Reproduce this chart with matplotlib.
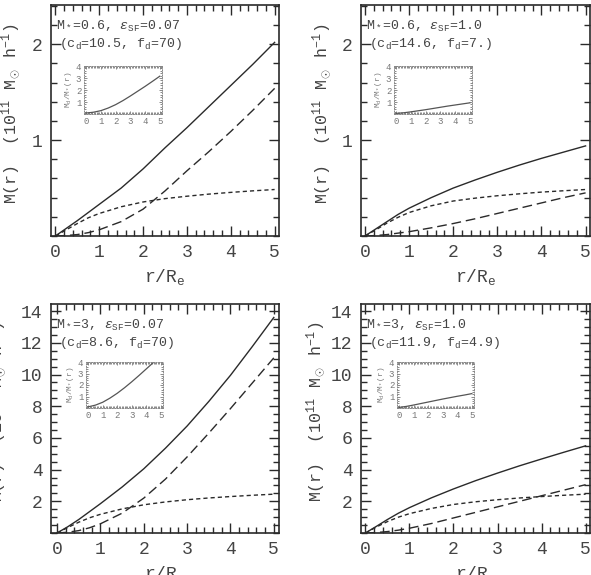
import matplotlib
matplotlib.use("Agg")
import matplotlib.pyplot as plt
from matplotlib.ticker import MultipleLocator, FixedLocator

plt.rcParams['font.family'] = ['Liberation Mono', 'DejaVu Sans']
plt.rcParams['mathtext.fontset'] = 'custom'
plt.rcParams['mathtext.rm'] = 'Liberation Mono'
plt.rcParams['mathtext.it'] = 'Liberation Mono:italic'
plt.rcParams['mathtext.bf'] = 'Liberation Mono:bold'

r = [0, 0.25, 0.5, 0.75, 1, 1.5, 2, 2.5, 3, 3.5, 4, 4.5, 5]

# top-left: M*=0.6, eSF=0.07
tl_total = [0, 0.08, 0.16, 0.245, 0.33, 0.5, 0.7, 0.92, 1.13, 1.35, 1.57, 1.79, 2.02]
tl_dm    = [0, 0.005, 0.015, 0.035, 0.065, 0.15, 0.28, 0.47, 0.68, 0.88, 1.09, 1.31, 1.54]
tl_star  = [0, 0.065, 0.13, 0.19, 0.235, 0.305, 0.355, 0.39, 0.415, 0.437, 0.455, 0.471, 0.485]
# top-right: M*=0.6, eSF=1.0
tr_total = [0, 0.075, 0.15, 0.225, 0.29, 0.4, 0.5, 0.585, 0.665, 0.74, 0.81, 0.875, 0.94]
tr_dm    = [0, 0.005, 0.015, 0.03, 0.045, 0.085, 0.13, 0.18, 0.235, 0.29, 0.345, 0.4, 0.45]
tr_star  = [0, 0.065, 0.135, 0.195, 0.245, 0.315, 0.365, 0.395, 0.42, 0.44, 0.458, 0.472, 0.485]
# bottom-left: M*=3, eSF=0.07
bl_total = [0, 0.4, 0.85, 1.35, 1.85, 2.9, 4.05, 5.35, 6.75, 8.3, 9.95, 11.75, 13.6]
bl_dm    = [0, 0.05, 0.15, 0.33, 0.58, 1.25, 2.2, 3.4, 4.8, 6.3, 7.85, 9.45, 11.05]
bl_star  = [0, 0.35, 0.68, 0.96, 1.18, 1.52, 1.78, 1.96, 2.1, 2.21, 2.3, 2.38, 2.45]
# bottom-right: M*=3, eSF=1.0
br_total = [0, 0.42, 0.85, 1.25, 1.6, 2.22, 2.78, 3.3, 3.78, 4.24, 4.67, 5.09, 5.5]
br_dm    = [0, 0.03, 0.09, 0.18, 0.3, 0.6, 0.95, 1.3, 1.65, 2.0, 2.35, 2.7, 3.05]
br_star  = [0, 0.38, 0.72, 1.0, 1.22, 1.55, 1.8, 1.97, 2.1, 2.21, 2.3, 2.38, 2.45]

# insets: Md/M*(r)
ri = [0, 0.5, 1, 1.5, 2, 2.5, 3, 3.5, 4, 4.5, 5]
tl_ratio = [0.08, 0.15, 0.28, 0.5, 0.78, 1.12, 1.5, 1.9, 2.3, 2.72, 3.15]
tr_ratio = [0.05, 0.1, 0.18, 0.27, 0.36, 0.46, 0.56, 0.66, 0.75, 0.84, 0.93]
bl_ratio = [0.1, 0.25, 0.5, 0.86, 1.28, 1.76, 2.28, 2.83, 3.4, 3.97, 4.55]
br_ratio = [0.05, 0.14, 0.26, 0.39, 0.52, 0.65, 0.78, 0.9, 1.02, 1.13, 1.25]

labels = [
    (r'M$_*$=0.6, $\epsilon_{\rm SF}$=0.07', r'(c$_{\rm d}$=10.5, f$_{\rm d}$=70)'),
    (r'M$_*$=0.6, $\epsilon_{\rm SF}$=1.0', r'(c$_{\rm d}$=14.6, f$_{\rm d}$=7.)'),
    (r'M$_*$=3, $\epsilon_{\rm SF}$=0.07', r'(c$_{\rm d}$=8.6, f$_{\rm d}$=70)'),
    (r'M$_*$=3, $\epsilon_{\rm SF}$=1.0', r'(c$_{\rm d}$=11.9, f$_{\rm d}$=4.9)'),
]

W, H = 591, 575
fig = plt.figure(figsize=(W / 100, H / 100), dpi=100)

def fx(px):
    return px / W

def fy(py):
    return 1 - py / H

main_px = [
    (51, 5, 279, 236),
    (361, 5, 590, 236),
    (51, 304, 279, 533),
    (361, 304, 590, 533),
]
inset_px = [
    (84, 66, 162, 114),
    (394, 66, 472, 114),
    (86, 362, 163, 408),
    (397, 362, 474, 408),
]
ylab_x = [-0.122, -0.118, -0.185, -0.143]
xlims = [(-0.1, 5.1), (-0.09, 5.1), (-0.14, 5.12), (-0.1, 5.1)]
ylims = [(0, 2.41), (0, 2.41), (0, 14.45), (0, 14.45)]
data = [
    (tl_total, tl_dm, tl_star, tl_ratio),
    (tr_total, tr_dm, tr_star, tr_ratio),
    (bl_total, bl_dm, bl_star, bl_ratio),
    (br_total, br_dm, br_star, br_ratio),
]

ink = '#2a2a2a'
txt = '#444444'

for i in range(4):
    x0, y0, x1, y1 = main_px[i]
    ax = fig.add_axes([fx(x0), fy(y1), fx(x1 - x0), (y1 - y0) / H])
    tot, dm, st, ratio = data[i]
    ax.plot(r, tot, color=ink, lw=1.0, ls='-')
    ax.plot(r, dm, color=ink, lw=1.0, ls=(0, (7, 3.5)))
    ax.plot(r, st, color=ink, lw=1.0, ls=(0, (3, 2.2)))
    ax.set_xlim(*xlims[i])
    ax.set_ylim(*ylims[i])
    ax.xaxis.set_major_locator(FixedLocator([0, 1, 2, 3, 4, 5]))
    ax.xaxis.set_minor_locator(MultipleLocator(0.2))
    if i < 2:
        ax.yaxis.set_major_locator(FixedLocator([1, 2]))
        ax.yaxis.set_minor_locator(MultipleLocator(0.2))
    else:
        ax.yaxis.set_major_locator(FixedLocator([2, 4, 6, 8, 10, 12, 14]))
        ax.yaxis.set_minor_locator(MultipleLocator(0.5))
    ax.tick_params(which='both', direction='in', top=True, right=True,
                   colors=ink, labelcolor=txt, labelsize=13, width=1.0)
    ax.tick_params(which='major', length=7, pad=6)
    ax.tick_params(which='minor', length=4)
    for s in ax.spines.values():
        s.set_linewidth(1.2)
        s.set_color(ink)
    ax.set_xlabel(r'r/R$_{\rm e}$', fontsize=13, color=txt, labelpad=4)
    ax.set_ylabel(r'M(r)  (10$^{11}$ M$_\odot$ h$^{-1}$)', fontsize=12,
                  color=txt)
    ax.yaxis.set_label_coords(ylab_x[i], 0.53)
    l1, l2 = labels[i]
    ax.text(0.02, 0.94, l1, transform=ax.transAxes, fontsize=9.5,
            color=txt, va='top', ha='left')
    ax.text(0.035, 0.865, l2, transform=ax.transAxes, fontsize=9.5,
            color=txt, va='top', ha='left')

    # inset
    a0, b0, a1, b1 = inset_px[i]
    axi = fig.add_axes([fx(a0), fy(b1), fx(a1 - a0), (b1 - b0) / H])
    axi.plot(ri, ratio, color='#555555', lw=0.9)
    axi.set_xlim(-0.15, 5.15)
    axi.set_ylim(0, 4)
    axi.xaxis.set_major_locator(FixedLocator([0, 1, 2, 3, 4, 5]))
    axi.xaxis.set_minor_locator(MultipleLocator(0.1))
    axi.yaxis.set_major_locator(FixedLocator([1, 2, 3, 4]))
    axi.yaxis.set_minor_locator(MultipleLocator(0.2))
    axi.tick_params(which='both', direction='in', top=True, right=True,
                    colors='#777777', labelcolor='#777777', labelsize=6.5,
                    width=0.6)
    axi.tick_params(which='major', length=2.5, pad=2)
    axi.tick_params(which='minor', length=1.5)
    for s in axi.spines.values():
        s.set_linewidth(0.7)
        s.set_color('#888888')
        s.set_linestyle(':')
    axi.set_ylabel(r'M$_{\rm d}$/M$_*$(r)', fontsize=5.5, color='#777777', labelpad=1)

fig.savefig('out.png', dpi=100)
